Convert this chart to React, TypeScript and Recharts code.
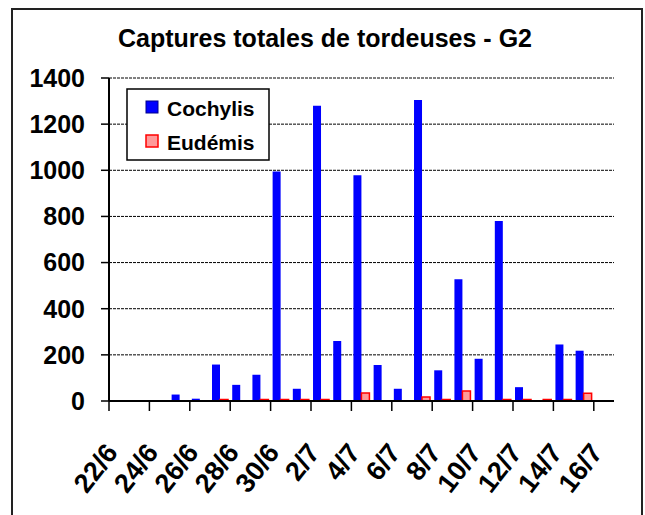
import React from 'react';
import { BarChart, Bar, XAxis, YAxis, CartesianGrid, Legend } from 'recharts';

const FONT = '"Liberation Sans", Arial, Helvetica, sans-serif';

const dates = ['22/6','23/6','24/6','25/6','26/6','27/6','28/6','29/6','30/6','1/7','2/7','3/7','4/7','5/7','6/7','7/7','8/7','9/7','10/7','11/7','12/7','13/7','14/7','15/7','16/7'];
const cochylis = [0,0,0,28,10,158,70,114,995,53,1280,260,978,156,53,1305,133,528,183,780,60,0,245,218,0];
const eudemis = [0,0,0,0,0,7,0,7,7,7,7,0,35,0,0,17,7,43,0,7,7,7,7,34,0];
const yTicks = [0,200,400,600,800,1000,1200,1400];
const seriesNames = ['Cochylis', 'Eudémis'];
const title = 'Captures totales de tordeuses - G2';

const data = dates.map((d, i) => ({ date: d, cochylis: cochylis[i], eudemis: eudemis[i] }));

const XTick = (props: any) => {
  const { x, y, payload } = props;
  const off = payload && typeof payload.offset === 'number' ? payload.offset : 0;
  const bx = x - off;
  const ax = bx + 10;
  const ay = y + 52;
  return (
    <g>
      <line x1={bx} y1={y} x2={bx} y2={y + 10} stroke="#000" strokeWidth={1.5} />
      <text
        x={ax}
        y={ay}
        textAnchor="end"
        transform={`rotate(-52 ${ax} ${ay})`}
        fontSize={27}
        fontWeight="bold"
        fontFamily={FONT}
        fill="#000"
      >
        {payload.value}
      </text>
    </g>
  );
};

const LegendBox = () => (
  <svg width={144} height={73} style={{ display: 'block' }}>
    <rect x={1} y={1} width={142} height={71} fill="#fff" stroke="#000" strokeWidth={1.5} />
    <rect x={20} y={13} width={12} height={12} fill="#0000FF" stroke="#00008B" strokeWidth={1} />
    <text x={41} y={28} fontSize={21} fontWeight="bold" fontFamily={FONT} fill="#000">{seriesNames[0]}</text>
    <rect x={20} y={47} width={12} height={12} fill="#FF9999" stroke="#FF0000" strokeWidth={1.5} />
    <text x={41} y={62} fontSize={21} fontWeight="bold" fontFamily={FONT} fill="#000">{seriesNames[1]}</text>
  </svg>
);

export default function App() {
  return (
    <div style={{ position: 'absolute', left: 0, top: 0, width: 645, height: 515, overflow: 'hidden', background: '#fff' }}>
      <div style={{ position: 'absolute', left: 11, top: 8, width: 628, height: 540, border: '2px solid #222' }} />
      <svg width={645} height={60} style={{ position: 'absolute', left: 0, top: 0 }}>
        <text x={325} y={47} textAnchor="middle" fontSize={25} fontWeight="bold" fontFamily={FONT} fill="#000">
          {title}
        </text>
      </svg>
      <div style={{ position: 'absolute', left: 0, top: 0 }}>
        <BarChart
          width={645}
          height={515}
          data={data}
          margin={{ top: 78, right: 31, bottom: 0, left: 0 }}
          barCategoryGap="10%"
          barGap={0}
        >
          <CartesianGrid vertical={false} stroke="#000" strokeDasharray="3 1" strokeWidth={1} />
          <XAxis
            dataKey="date"
            interval={1}
            height={114}
            tickLine={false}
            tickSize={0}
            tickMargin={0}
            axisLine={{ stroke: '#000', strokeWidth: 2 }}
            tick={<XTick />}
          />
          <YAxis
            width={109}
            domain={[0, 1400]}
            ticks={yTicks}
            interval={0}
            tickSize={8}
            tickMargin={16}
            axisLine={{ stroke: '#000', strokeWidth: 2 }}
            tickLine={{ stroke: '#000', strokeWidth: 1.5 }}
            tick={{ fontSize: 25, fontWeight: 'bold', fontFamily: FONT, fill: '#000' }}
          />
          <Legend
            layout="vertical"
            align="center"
            verticalAlign="middle"
            content={<LegendBox />}
            wrapperStyle={{ left: 126, top: 88, width: 144, height: 73 }}
          />
          <Bar dataKey="cochylis" name={seriesNames[0]} fill="#0000FF" isAnimationActive={false} />
          <Bar dataKey="eudemis" name={seriesNames[1]} fill="#FF9999" stroke="#FF0000" strokeWidth={1.5} isAnimationActive={false} />
        </BarChart>
      </div>
    </div>
  );
}
